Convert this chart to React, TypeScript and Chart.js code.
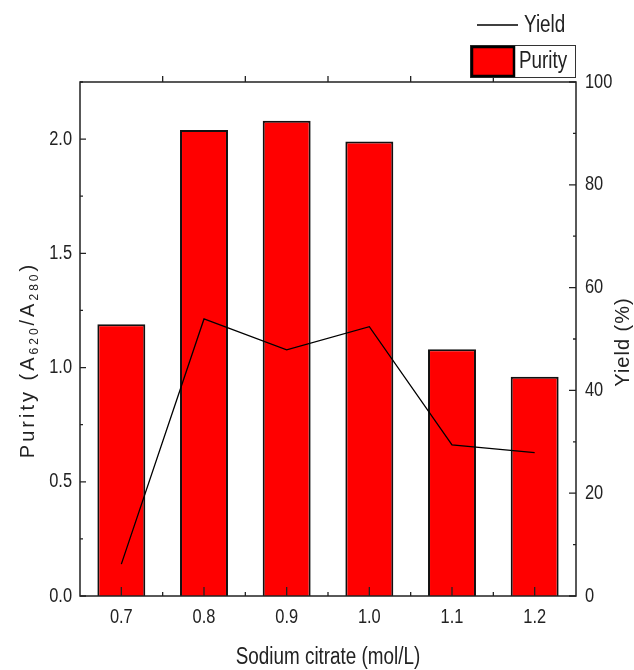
import React, { useEffect, useRef } from "react";
import { Chart, registerables } from "chart.js";

Chart.register(...registerables);

const categories = ["0.7", "0.8", "0.9", "1.0", "1.1", "1.2"];
const purityValues = [1.19, 2.04, 2.08, 1.99, 1.08, 0.96];
const yieldValues = [6.2, 53.9, 47.9, 52.4, 29.4, 27.9];
const purityTicks = [0, 0.5, 1.0, 1.5, 2.0];
const yieldTicks = [0, 20, 40, 60, 80, 100];

const REG = '"Liberation Sans", Arial, sans-serif';
const TXT = "#222";
const SQUEEZE = 0.82;

function narrowText(
  ctx: CanvasRenderingContext2D,
  text: string,
  x: number,
  y: number,
  size: number,
  align: "left" | "center" | "right"
) {
  ctx.save();
  ctx.font = `${size}px ${REG}`;
  ctx.textBaseline = "middle";
  ctx.textAlign = align;
  ctx.translate(x, y);
  ctx.scale(SQUEEZE, 1);
  ctx.fillText(text, 0, 0);
  ctx.restore();
}

const decorPlugin = {
  id: "decor",
  afterDatasetsDraw(chart: any) {
    const ctx = chart.ctx as CanvasRenderingContext2D;
    const { left, right, top, bottom } = chart.chartArea;
    const x = chart.scales.x;
    const y = chart.scales.y;
    const y1 = chart.scales.y1;
    ctx.save();
    ctx.strokeStyle = "#222";
    ctx.lineWidth = 1.5;
    ctx.strokeRect(left, top, right - left, bottom - top);
    ctx.lineWidth = 1.3;
    ctx.beginPath();
    const n = categories.length;
    for (let i = 0; i < n; i++) {
      const cx = x.getPixelForValue(i);
      ctx.moveTo(cx, bottom);
      ctx.lineTo(cx, bottom - 9);
    }
    for (let i = 1; i < n; i++) {
      const bx = (x.getPixelForValue(i - 1) + x.getPixelForValue(i)) / 2;
      ctx.moveTo(bx, bottom);
      ctx.lineTo(bx, bottom - 4);
      ctx.moveTo(bx, top);
      ctx.lineTo(bx, top - 6);
    }
    for (let v = 0; v <= 2.25; v += 0.25) {
      const py = y.getPixelForValue(v);
      const major = Math.abs(v / 0.5 - Math.round(v / 0.5)) < 1e-6;
      ctx.moveTo(left, py);
      ctx.lineTo(left + (major ? 6 : 3), py);
    }
    for (let v = 0; v <= 100; v += 10) {
      const py = y1.getPixelForValue(v);
      const major = v % 20 === 0;
      ctx.moveTo(right, py);
      ctx.lineTo(right - (major ? 7 : 3), py);
    }
    ctx.stroke();
    ctx.restore();
  },
  afterDraw(chart: any) {
    const ctx = chart.ctx as CanvasRenderingContext2D;
    const { left, right, bottom } = chart.chartArea;
    const xs = chart.scales.x;
    const ys = chart.scales.y;
    const y1s = chart.scales.y1;
    ctx.save();
    ctx.fillStyle = TXT;

    // tick labels
    categories.forEach((c, i) => {
      narrowText(ctx, c, xs.getPixelForValue(i), bottom + 21, 20, "center");
    });
    purityTicks.forEach((v) => {
      narrowText(ctx, v.toFixed(1), left - 8, ys.getPixelForValue(v), 20, "right");
    });
    yieldTicks.forEach((v) => {
      narrowText(ctx, String(v), right + 9, y1s.getPixelForValue(v), 20, "left");
    });

    // x title
    narrowText(ctx, "Sodium citrate (mol/L)", (left + right) / 2, 658, 23, "center");

    // left title with subscripts
    const segs: [string, boolean][] = [
      ["Purity (A", false],
      ["620", true],
      ["/A", false],
      ["280", true],
      [")", false],
    ];
    ctx.save();
    (ctx as any).letterSpacing = "3px";
    let total = 0;
    for (const [t, sub] of segs) {
      ctx.font = sub ? `12px ${REG}` : `20px ${REG}`;
      total += ctx.measureText(t).width;
    }
    ctx.translate(27, 360);
    ctx.rotate(-Math.PI / 2);
    ctx.textAlign = "left";
    ctx.textBaseline = "alphabetic";
    let cx = -total / 2;
    for (const [t, sub] of segs) {
      ctx.font = sub ? `12px ${REG}` : `20px ${REG}`;
      ctx.fillText(t, cx, sub ? 11 : 7);
      cx += ctx.measureText(t).width;
    }
    ctx.restore();

    // right title
    ctx.save();
    (ctx as any).letterSpacing = "1px";
    ctx.font = `20px ${REG}`;
    ctx.translate(623, 342);
    ctx.rotate(-Math.PI / 2);
    ctx.textAlign = "center";
    ctx.textBaseline = "middle";
    ctx.fillText("Yield (%)", 0, 0);
    ctx.restore();

    // legend
    const ds = chart.data.datasets;
    ctx.strokeStyle = "#000";
    ctx.lineWidth = 1.5;
    ctx.beginPath();
    ctx.moveTo(477, 25);
    ctx.lineTo(518, 25);
    ctx.stroke();
    narrowText(ctx, ds[0].label, 524, 26, 23, "left");

    ctx.lineWidth = 1;
    ctx.strokeStyle = "#333";
    ctx.strokeRect(470.5, 45.5, 105, 32);
    ctx.fillStyle = ds[1].backgroundColor;
    ctx.fillRect(471, 46, 44, 31);
    ctx.lineWidth = 2.5;
    ctx.strokeStyle = "#000";
    ctx.strokeRect(472, 47, 42, 29);
    ctx.fillStyle = TXT;
    narrowText(ctx, ds[1].label, 519, 62, 23, "left");
    ctx.restore();
  },
};

export default function App() {
  const ref = useRef<HTMLCanvasElement | null>(null);
  useEffect(() => {
    document.body.style.margin = "0";
    document.body.style.overflow = "hidden";
    const canvas = ref.current!;
    const chart = new Chart(canvas, {
      type: "bar",
      data: {
        labels: categories,
        datasets: [
          {
            type: "line",
            label: "Yield",
            data: yieldValues,
            yAxisID: "y1",
            borderColor: "#000",
            borderWidth: 1.3,
            pointRadius: 0,
            tension: 0,
            order: 0,
          } as any,
          {
            type: "bar",
            label: "Purity",
            data: purityValues,
            yAxisID: "y",
            backgroundColor: "#ff0000",
            borderColor: "#111",
            borderWidth: 2,
            barPercentage: 0.58,
            categoryPercentage: 1,
            order: 1,
          } as any,
        ],
      },
      options: {
        responsive: false,
        animation: false,
        layout: { padding: { top: 82, left: 0, right: 0, bottom: 0 } },
        plugins: { legend: { display: false }, tooltip: { enabled: false }, title: { display: false } },
        scales: {
          x: {
            offset: true,
            grid: { display: false, drawTicks: false },
            border: { display: false },
            ticks: { display: false },
            afterFit: (s: any) => {
              s.height = 74;
            },
          },
          y: {
            position: "left",
            min: 0,
            max: 2.25,
            grid: { display: false, drawTicks: false },
            border: { display: false },
            afterBuildTicks: (s: any) => {
              s.ticks = purityTicks.map((v) => ({ value: v }));
            },
            ticks: { display: false },
            afterFit: (s: any) => {
              s.width = 80;
            },
          },
          y1: {
            position: "right",
            min: 0,
            max: 100,
            grid: { display: false, drawTicks: false },
            border: { display: false },
            afterBuildTicks: (s: any) => {
              s.ticks = yieldTicks.map((v) => ({ value: v }));
            },
            ticks: { display: false },
            afterFit: (s: any) => {
              s.width = 58;
            },
          },
        },
      } as any,
      plugins: [decorPlugin],
    });
    return () => chart.destroy();
  }, []);
  return <canvas ref={ref} width={634} height={670} style={{ display: "block" }} />;
}
